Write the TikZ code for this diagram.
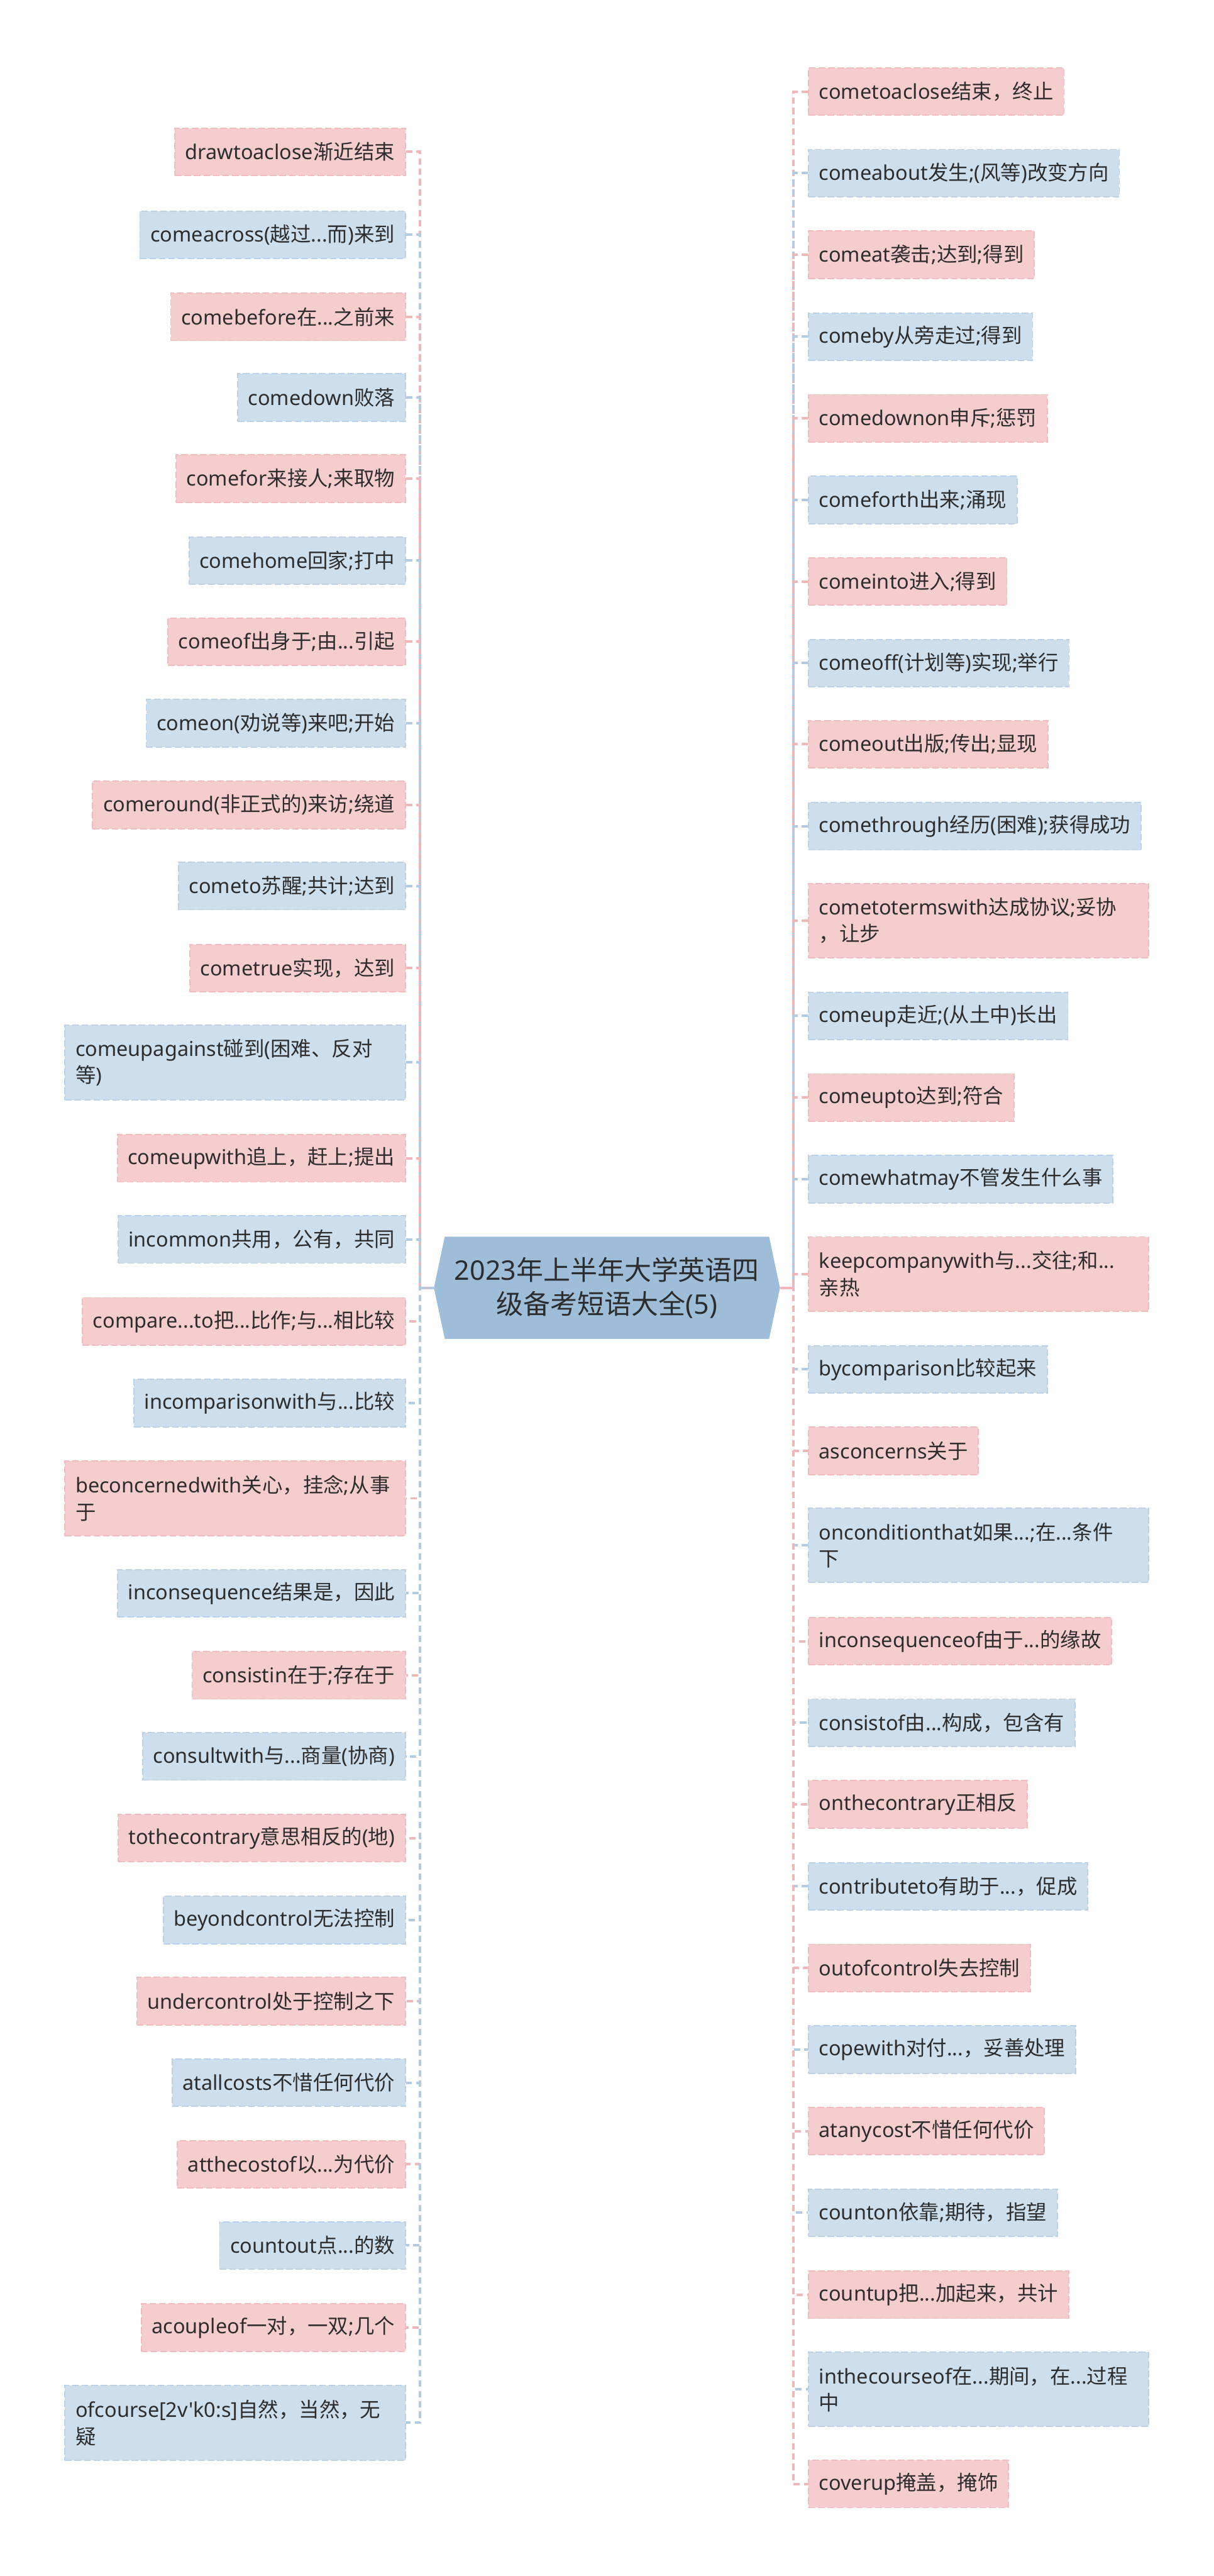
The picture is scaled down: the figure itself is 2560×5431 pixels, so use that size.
\documentclass[tikz,border=0pt]{standalone}
\usepackage{fontspec}
\usetikzlibrary{backgrounds}
\newfontfamily\cjkfont{Noto Sans CJK SC}
\newfontfamily\latinfont{Noto Sans}
\XeTeXinterchartokenstate=1
\chardef\CJKclass=10
\newcount\cjkc
\def\setclassrange#1#2#3{\cjkc=#1\relax\loop\XeTeXcharclass\cjkc=#3\relax\ifnum\cjkc<#2\relax\advance\cjkc by 1\repeat}
\setclassrange{"21}{"7E}{0}
\setclassrange{"4E00}{"9FFF}{\CJKclass}
\setclassrange{"3000}{"303F}{\CJKclass}
\setclassrange{"FF00}{"FFEF}{\CJKclass}
\XeTeXinterchartoks 0 \CJKclass = {\cjkfont}
\XeTeXinterchartoks 4095 \CJKclass = {\cjkfont}
\XeTeXinterchartoks \CJKclass 0 = {\latinfont}
\definecolor{pfill}{RGB}{246,205,206}
\definecolor{bfill}{RGB}{205,222,237}
\definecolor{pline}{RGB}{240,188,190}
\definecolor{bline}{RGB}{188,208,230}
\definecolor{pconn}{RGB}{240,182,184}
\definecolor{bconn}{RGB}{178,203,228}
\definecolor{cfill}{RGB}{158,189,217}
\definecolor{txt}{RGB}{45,45,45}
\newcommand\nodefont{\fontsize{12.23pt}{16pt}\selectfont\latinfont}
\newcommand\ctrfont{\fontsize{16.2pt}{20.5pt}\selectfont\latinfont}
\begin{document}
\begin{tikzpicture}[x=0.01cm,y=-0.01cm,
  box/.style={rectangle, inner xsep=6.3pt, inner ysep=0pt, minimum height=28.45pt,
    text=txt, font=\nodefont, line width=0.7pt, dash pattern=on 4pt off 1.7pt},
  pk/.style={box, fill=pfill, draw=pline},
  bl/.style={box, fill=bfill, draw=bline},
  two/.style={minimum height=44.67pt, text width=191.5pt, align=left},
  lft/.style={anchor=east},
  rgt/.style={anchor=west},
  conn/.style={line width=1.5pt, dash pattern=on 3.8pt off 2.4pt},
]
\useasboundingbox (0,0) rectangle (2560,5431);
\begin{scope}[on background layer]
\fill[white] (0,0) rectangle (2560,5431);
\end{scope}

% centre
\node[minimum width=207.1pt, minimum height=60.9pt, inner sep=0pt, align=center,
  font=\ctrfont, text=txt] (ctr) at (1280,2715) {2023年上半年大学英语四\\级备考短语大全(5)};
\begin{scope}[on background layer]
\fill[cfill] (ctr.west) -- ([xshift=6.5pt]ctr.north west) -- ([xshift=-6.5pt]ctr.north east)
  -- (ctr.east) -- ([xshift=-6.5pt]ctr.south east) -- ([xshift=6.5pt]ctr.south west) -- cycle;
\end{scope}
\coordinate (lt) at (886,2715);
\coordinate (rt) at (1673,2715);

% left branch
\node[pk,lft] (L1) at (856,320) {drawtoaclose渐近结束};
\node[bl,lft] (L2) at (856,495) {comeacross(越过...而)来到};
\node[pk,lft] (L3) at (856,668) {comebefore在...之前来};
\node[bl,lft] (L4) at (856,838) {comedown败落};
\node[pk,lft] (L5) at (856,1009) {comefor来接人;来取物};
\node[bl,lft] (L6) at (856,1182) {comehome回家;打中};
\node[pk,lft] (L7) at (856,1353) {comeof出身于;由...引起};
\node[bl,lft] (L8) at (856,1525) {comeon(劝说等)来吧;开始};
\node[pk,lft] (L9) at (856,1697) {comeround(非正式的)来访;绕道};
\node[bl,lft] (L10) at (856,1868) {cometo苏醒;共计;达到};
\node[pk,lft] (L11) at (856,2041) {cometrue实现，达到};
\node[bl,lft,two] (L12) at (856,2240) {comeupagainst碰到(困难、反对\\等)};
\node[pk,lft] (L13) at (856,2442) {comeupwith追上，赶上;提出};
\node[bl,lft] (L14) at (856,2613) {incommon共用，公有，共同};
\node[pk,lft] (L15) at (856,2786) {compare...to把...比作;与...相比较};
\node[bl,lft] (L16) at (856,2958) {incomparisonwith与...比较};
\node[pk,lft,two] (L17) at (856,3159) {beconcernedwith关心，挂念;从事\\于};
\node[bl,lft] (L18) at (856,3359) {inconsequence结果是，因此};
\node[pk,lft] (L19) at (856,3532) {consistin在于;存在于};
\node[bl,lft] (L20) at (856,3703) {consultwith与...商量(协商)};
\node[pk,lft] (L21) at (856,3875) {tothecontrary意思相反的(地)};
\node[bl,lft] (L22) at (856,4048) {beyondcontrol无法控制};
\node[pk,lft] (L23) at (856,4219) {undercontrol处于控制之下};
\node[bl,lft] (L24) at (856,4391) {atallcosts不惜任何代价};
\node[pk,lft] (L25) at (856,4563) {atthecostof以...为代价};
\node[bl,lft] (L26) at (856,4734) {countout点...的数};
\node[pk,lft] (L27) at (856,4907) {acoupleof一对，一双;几个};
\node[bl,lft,two] (L28) at (856,5108) {ofcourse[2v'k0:s]自然，当然，无\\疑};

% right branch
\node[pk,rgt] (R1) at (1704,193) {cometoaclose结束，终止};
\node[bl,rgt] (R2) at (1704,365) {comeabout发生;(风等)改变方向};
\node[pk,rgt] (R3) at (1704,537) {comeat袭击;达到;得到};
\node[bl,rgt] (R4) at (1704,710) {comeby从旁走过;得到};
\node[pk,rgt] (R5) at (1704,882) {comedownon申斥;惩罚};
\node[bl,rgt] (R6) at (1704,1054) {comeforth出来;涌现};
\node[pk,rgt] (R7) at (1704,1226) {comeinto进入;得到};
\node[bl,rgt] (R8) at (1704,1398) {comeoff(计划等)实现;举行};
\node[pk,rgt] (R9) at (1704,1569) {comeout出版;传出;显现};
\node[bl,rgt] (R10) at (1704,1742) {comethrough经历(困难);获得成功};
\node[pk,rgt,two] (R11) at (1704,1941) {cometotermswith达成协议;妥协\\，让步};
\node[bl,rgt] (R12) at (1704,2142) {comeup走近;(从土中)长出};
\node[pk,rgt] (R13) at (1704,2314) {comeupto达到;符合};
\node[bl,rgt] (R14) at (1704,2486) {comewhatmay不管发生什么事};
\node[pk,rgt,two] (R15) at (1704,2686) {keepcompanywith与...交往;和...\\亲热};
\node[bl,rgt] (R16) at (1704,2887) {bycomparison比较起来};
\node[pk,rgt] (R17) at (1704,3059) {asconcerns关于};
\node[bl,rgt,two] (R18) at (1704,3258) {onconditionthat如果...;在...条件\\下};
\node[pk,rgt] (R19) at (1704,3460) {inconsequenceof由于...的缘故};
\node[bl,rgt] (R20) at (1704,3632) {consistof由...构成，包含有};
\node[pk,rgt] (R21) at (1704,3804) {onthecontrary正相反};
\node[bl,rgt] (R22) at (1704,3977) {contributeto有助于...，促成};
\node[pk,rgt] (R23) at (1704,4149) {outofcontrol失去控制};
\node[bl,rgt] (R24) at (1704,4321) {copewith对付...，妥善处理};
\node[pk,rgt] (R25) at (1704,4493) {atanycost不惜任何代价};
\node[bl,rgt] (R26) at (1704,4665) {counton依靠;期待，指望};
\node[pk,rgt] (R27) at (1704,4838) {countup把...加起来，共计};
\node[bl,rgt,two] (R28) at (1704,5037) {inthecourseof在...期间，在...过程\\中};
\node[pk,rgt] (R29) at (1704,5237) {coverup掩盖，掩饰};

% connectors
\foreach \i/\c in {1/pconn,2/bconn,3/pconn,4/bconn,5/pconn,6/bconn,7/pconn,8/bconn,9/pconn,10/bconn,11/pconn,12/bconn,13/pconn,14/bconn}
  \draw[conn,draw=\c] (L\i.east) -| (lt) -- (ctr.west);
\foreach \i/\c in {15/pconn,16/bconn,17/pconn,18/bconn,19/pconn,20/bconn,21/pconn,22/bconn,23/pconn,24/bconn,25/pconn,26/bconn,27/pconn,28/bconn}
  \draw[conn,draw=\c] (ctr.west) -- (lt) |- (L\i.east);
\foreach \i/\c in {1/pconn,2/bconn,3/pconn,4/bconn,5/pconn,6/bconn,7/pconn,8/bconn,9/pconn,10/bconn,11/pconn,12/bconn,13/pconn,14/bconn,15/pconn}
  \draw[conn,draw=\c] (R\i.west) -| (rt) -- (ctr.east);
\foreach \i/\c in {16/bconn,17/pconn,18/bconn,19/pconn,20/bconn,21/pconn,22/bconn,23/pconn,24/bconn,25/pconn,26/bconn,27/pconn,28/bconn,29/pconn}
  \draw[conn,draw=\c] (ctr.east) -- (rt) |- (R\i.west);
\end{tikzpicture}
\end{document}
